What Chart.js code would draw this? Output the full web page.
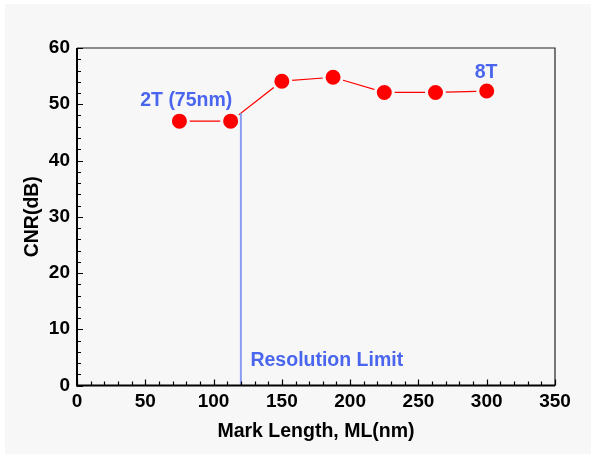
<!DOCTYPE html>
<html>
<head>
<meta charset="utf-8">
<script src="https://cdn.jsdelivr.net/npm/chart.js@4/dist/chart.umd.min.js"></script>
<style>
  html, body { margin: 0; padding: 0; background: #ffffff; }
  #wrap { width: 595px; height: 458px; position: relative; }
</style>
</head>
<body>
<div id="wrap"><canvas id="cnrChart"></canvas></div>
<script>
/* ===========================================
   DATA
=========================================== */

const markLength = [75, 112.5, 150, 187.5, 225, 262.5, 300];
const cnrValues = [47.0, 47.0, 54.1, 54.8, 52.1, 52.1, 52.35];

// resolution limit marker (vertical line from 0 up to the curve)
const limitX = [120, 120];
const limitY = [0, 48.4];

const xTicks = [0, 50, 100, 150, 200, 250, 300, 350];
const yTicks = [0, 10, 20, 30, 40, 50, 60];

// annotations: text, x, y (data units)
const notes = [
    { text: "2T (75nm)", x: 80, y: 50.6, align: "center" },
    { text: "8T", x: 299.5, y: 55.7, align: "center" },
    { text: "Resolution Limit", x: 127, y: 4.35, align: "left" }
];

/* ===========================================
   PLUGINS
=========================================== */

const FONT = "'Liberation Sans', Arial, sans-serif";
const BG = "#f7f7f7";

const panelPlugin = {
    id: "panel",
    beforeDraw(chart) {
        const ctx = chart.ctx;
        ctx.save();
        ctx.fillStyle = "#ffffff";
        ctx.fillRect(0, 0, chart.width, chart.height);
        ctx.fillStyle = BG;
        ctx.fillRect(5, 4, chart.width - 9, chart.height - 8);
        ctx.restore();
    }
};

const framePlugin = {
    id: "frame",
    afterDatasetsDraw(chart) {
        const { ctx, chartArea: a, scales } = chart;
        ctx.save();

        // top / right border
        ctx.strokeStyle = "#222222";
        ctx.lineWidth = 1.2;
        ctx.beginPath();
        ctx.moveTo(a.left, a.top);
        ctx.lineTo(a.right, a.top);
        ctx.lineTo(a.right, a.bottom);
        ctx.stroke();

        // left / bottom axes
        ctx.strokeStyle = "#000000";
        ctx.lineWidth = 2;
        ctx.beginPath();
        ctx.moveTo(a.left, a.top);
        ctx.lineTo(a.left, a.bottom);
        ctx.lineTo(a.right, a.bottom);
        ctx.stroke();

        // inward ticks
        ctx.lineWidth = 1.2;
        ctx.beginPath();
        for (let v = 0; v <= 60; v += 2) {
            const y = Math.round(scales.y.getPixelForValue(v)) + 0.5;
            const len = v % 10 === 0 ? 6 : 4;
            ctx.moveTo(a.left, y);
            ctx.lineTo(a.left + len, y);
        }
        for (let v = 0; v <= 350; v += 10) {
            const x = Math.round(scales.x.getPixelForValue(v)) + 0.5;
            const len = v % 50 === 0 ? 6 : 4;
            ctx.moveTo(x, a.bottom);
            ctx.lineTo(x, a.bottom - len);
        }
        ctx.stroke();

        // annotations
        ctx.fillStyle = "#4a66ee";
        ctx.font = "bold 19.5px " + FONT;
        ctx.textBaseline = "middle";
        notes.forEach(n => {
            ctx.textAlign = n.align;
            ctx.fillText(n.text, scales.x.getPixelForValue(n.x), scales.y.getPixelForValue(n.y));
        });

        ctx.restore();
    }
};

/* ===========================================
   CHART
=========================================== */

const cnrChart = new Chart(

    document.getElementById("cnrChart"),

    {

        type: "scatter",

        data: {

            datasets: [

                {

                    label: "CNR",

                    data: markLength.map((x, i) => ({ x: x, y: cnrValues[i] })),

                    showLine: true,

                    borderColor: "#ff0000",

                    borderWidth: 1.2,

                    pointRadius: 9,

                    pointHoverRadius: 9,

                    pointBackgroundColor: "#ff0000",

                    pointBorderColor: BG,

                    pointBorderWidth: 3,

                    order: 2

                },

                {

                    label: "Resolution Limit",

                    data: limitX.map((x, i) => ({ x: x, y: limitY[i] })),

                    showLine: true,

                    borderColor: "#8a9cf2",

                    borderWidth: 2,

                    pointRadius: 0,

                    order: 1

                }

            ]

        },

        options: {

            responsive: true,

            maintainAspectRatio: false,

            animation: false,

            layout: {

                padding: { top: 48, right: 40, left: 0, bottom: 0 }

            },

            plugins: {

                legend: { display: false },

                tooltip: { enabled: false }

            },

            scales: {

                x: {

                    type: "linear",

                    min: 0,

                    max: 350,

                    afterFit(scale) { scale.height = 72.5; },

                    afterBuildTicks(scale) { scale.ticks = xTicks.map(v => ({ value: v })); },

                    grid: { display: false, drawTicks: false },

                    border: { display: false },

                    ticks: {

                        color: "#000000",

                        padding: 5,

                        font: { family: FONT, size: 19, weight: "bold" }

                    },

                    title: {

                        display: true,

                        text: "Mark Length, ML(nm)",

                        color: "#000000",

                        padding: { top: 0, bottom: 14.5 },

                        font: { family: FONT, size: 19.5, weight: "bold" }

                    }

                },

                y: {

                    min: 0,

                    max: 60,

                    afterFit(scale) { scale.width = 77; },

                    afterBuildTicks(scale) { scale.ticks = yTicks.map(v => ({ value: v })); },

                    grid: { display: false, drawTicks: false },

                    border: { display: false },

                    ticks: {

                        color: "#000000",

                        padding: 7,

                        font: { family: FONT, size: 19, weight: "bold" }

                    },

                    title: {

                        display: true,

                        text: "CNR(dB)",

                        color: "#000000",

                        padding: { top: 20.5, bottom: 0 },

                        font: { family: FONT, size: 19.5, weight: "bold" }

                    }

                }

            }

        },

        plugins: [panelPlugin, framePlugin]

    }

);
</script>
</body>
</html>
